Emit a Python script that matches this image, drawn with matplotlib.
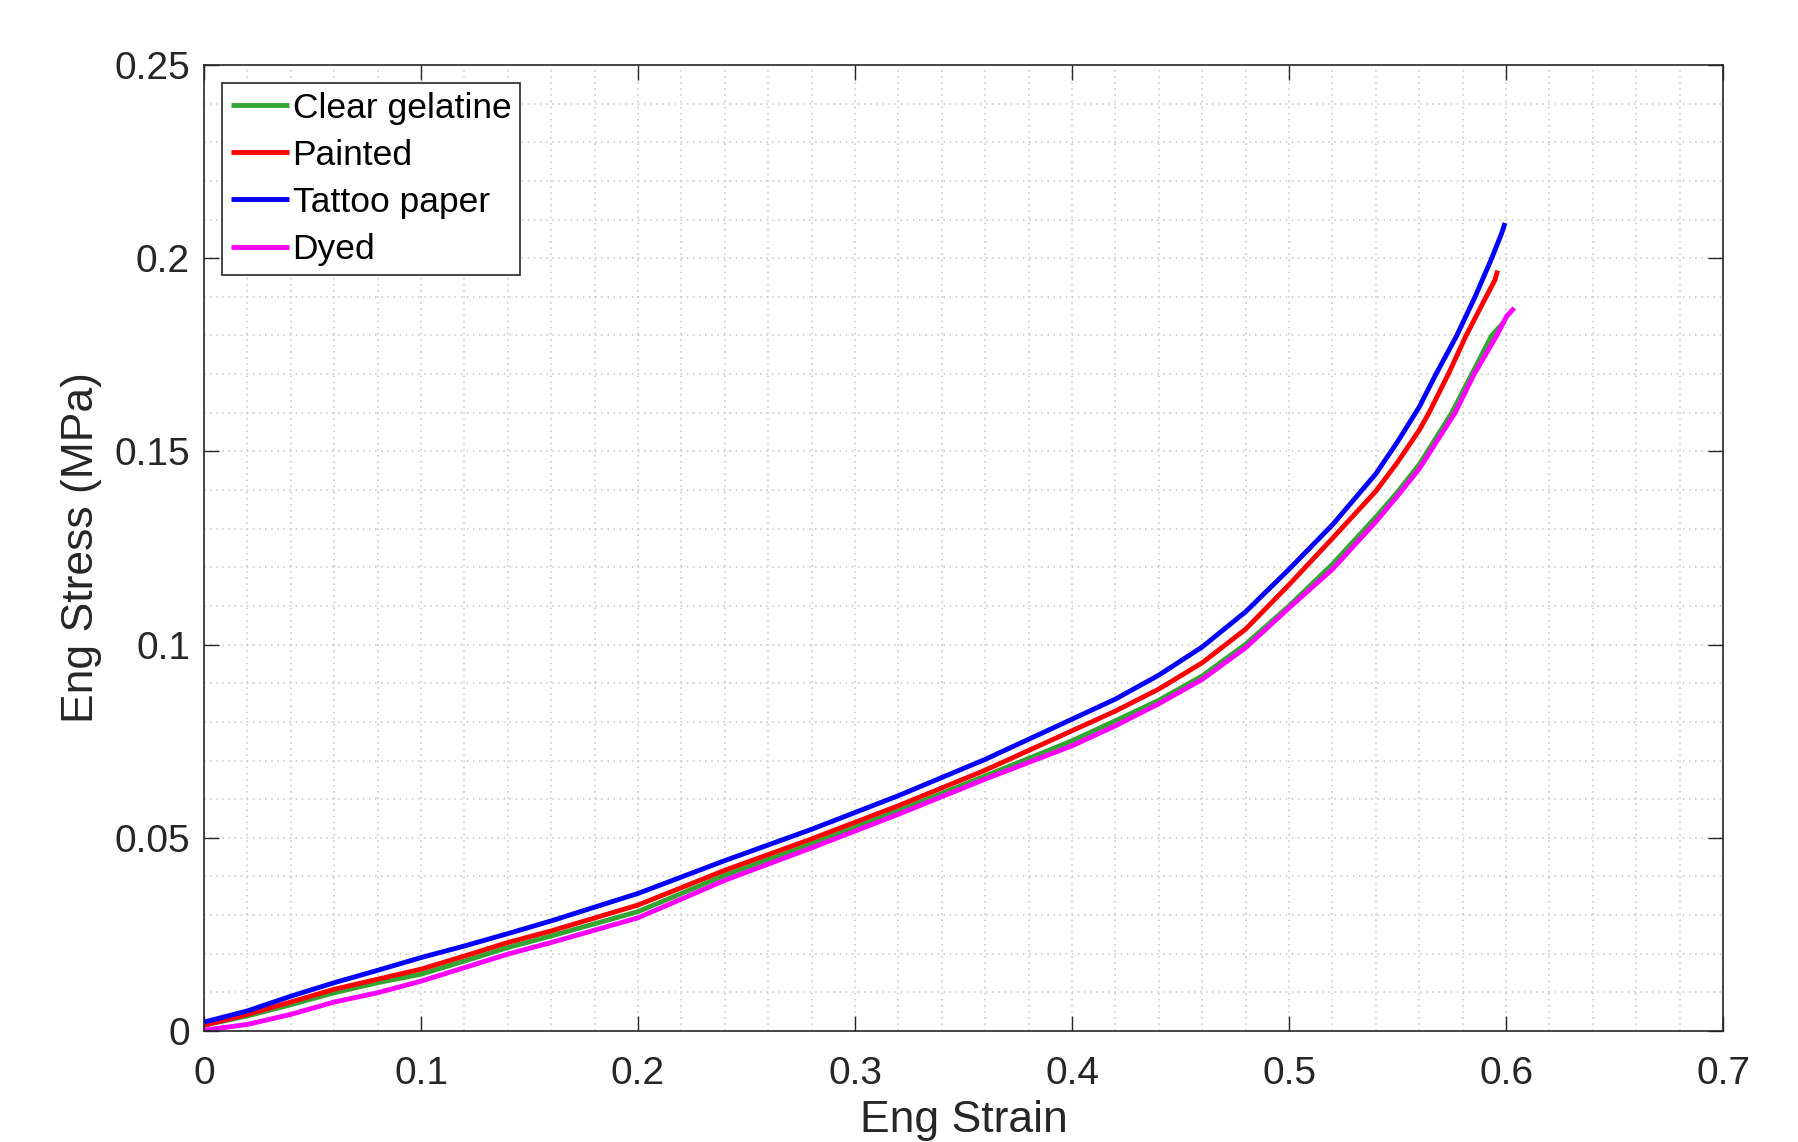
import numpy as np
import matplotlib
matplotlib.use("Agg")
import matplotlib.pyplot as plt
from matplotlib.ticker import MultipleLocator, FormatStrFormatter

plt.rcParams['font.family'] = ['Liberation Sans', 'DejaVu Sans']

# ---------------------------- DATA ---------------------------------- #
base_strain = [0, 0.02, 0.04, 0.06, 0.08, 0.10, 0.12, 0.14, 0.16, 0.20, 0.24,
               0.28, 0.32, 0.36, 0.40, 0.42, 0.44, 0.46, 0.48, 0.50, 0.52,
               0.54, 0.55, 0.56]

clear_strain = base_strain + [0.575, 0.5842, 0.5934, 0.5992]
clear_stress = [0.0015, 0.0039, 0.0068, 0.0099, 0.0125, 0.0147, 0.0181, 0.0216,
                0.0246, 0.0309, 0.0403, 0.0484, 0.0570, 0.0660, 0.0751, 0.0803,
                0.0856, 0.0919, 0.1001, 0.1100, 0.1208, 0.1330, 0.1395, 0.1466,
                0.160, 0.170, 0.180, 0.1836]

painted_strain = base_strain + [0.5645, 0.5734, 0.5816, 0.5908, 0.5949, 0.5961]
painted_stress = [0.0015, 0.0043, 0.0075, 0.0108, 0.0134, 0.0160, 0.0194, 0.0229,
                  0.0259, 0.0326, 0.0416, 0.0497, 0.0583, 0.0675, 0.0777, 0.0828,
                  0.0885, 0.0953, 0.1040, 0.1155, 0.1275, 0.1397, 0.1472, 0.1555,
                  0.160, 0.170, 0.180, 0.190, 0.1944, 0.1968]

tattoo_strain = base_strain + [0.5677, 0.5773, 0.5857, 0.5934, 0.5980, 0.5995]
tattoo_stress = [0.0023, 0.0052, 0.0090, 0.0125, 0.0157, 0.0190, 0.0220, 0.0252,
                 0.0285, 0.0356, 0.0441, 0.0522, 0.0609, 0.0703, 0.0807, 0.0859,
                 0.0921, 0.0994, 0.1085, 0.1195, 0.1310, 0.1442, 0.1525, 0.1615,
                 0.170, 0.180, 0.190, 0.200, 0.2065, 0.2091]

dyed_strain = base_strain + [0.5765, 0.5853, 0.5957, 0.6003, 0.6038]
dyed_stress = [0.0002, 0.0017, 0.0043, 0.0075, 0.0099, 0.0129, 0.0164, 0.0199,
               0.0229, 0.0293, 0.0390, 0.0474, 0.0561, 0.0652, 0.0738, 0.0790,
               0.0847, 0.0910, 0.0992, 0.1095, 0.1195, 0.1318, 0.1385, 0.1455,
               0.160, 0.170, 0.180, 0.185, 0.1871]

labels = ['Clear gelatine', 'Painted', 'Tattoo paper', 'Dyed']
colors = ['#33a532', '#ff0000', '#0000ff', '#ff00ff']
# ---------------------------- DATA ---------------------------------- #

fig = plt.figure(figsize=(17.99, 11.42), dpi=100)
ax = fig.add_axes([0.1134, 0.0972, 0.8444, 0.8459])

series = [(clear_strain, clear_stress), (painted_strain, painted_stress),
          (tattoo_strain, tattoo_stress), (dyed_strain, dyed_stress)]
for (x, y), lab, c in zip(series, labels, colors):
    ax.plot(x, y, color=c, lw=3.5, label=lab, solid_capstyle='butt',
            solid_joinstyle='round')

ax.set_xlim(0, 0.7)
ax.set_ylim(0, 0.25)
ax.xaxis.set_major_locator(MultipleLocator(0.1))
ax.xaxis.set_minor_locator(MultipleLocator(0.02))
ax.yaxis.set_major_locator(MultipleLocator(0.05))
ax.yaxis.set_minor_locator(MultipleLocator(0.01))
ax.xaxis.set_major_formatter(FormatStrFormatter('%g'))
ax.yaxis.set_major_formatter(FormatStrFormatter('%g'))

# dotted grid everywhere
ax.grid(which='both', color='#c4c4c4', linestyle=(0, (1, 3)), linewidth=1.1)
ax.set_axisbelow(True)

axcol = '#262626'
for s in ax.spines.values():
    s.set_color(axcol)
    s.set_linewidth(1.2)
ax.tick_params(which='major', direction='in', length=11, width=1,
               top=True, right=True, colors=axcol, labelsize=28)
ax.tick_params(axis='x', which='major', pad=18)
ax.tick_params(axis='y', which='major', pad=10)
ax.tick_params(which='minor', length=0)

ax.set_xlabel('Eng Strain', fontsize=32, color=axcol, labelpad=6)
ax.set_ylabel('Eng Stress (MPa)', fontsize=32, color=axcol, labelpad=9)

leg = ax.legend(loc='upper left', fontsize=25.5, handlelength=1.65,
                handletextpad=0.1, labelspacing=0.4, borderaxespad=0.5,
                borderpad=0.25, fancybox=False, framealpha=1)
leg.get_frame().set_edgecolor(axcol)
leg.get_frame().set_linewidth(1.2)

plt.savefig('out.png', dpi=100)
